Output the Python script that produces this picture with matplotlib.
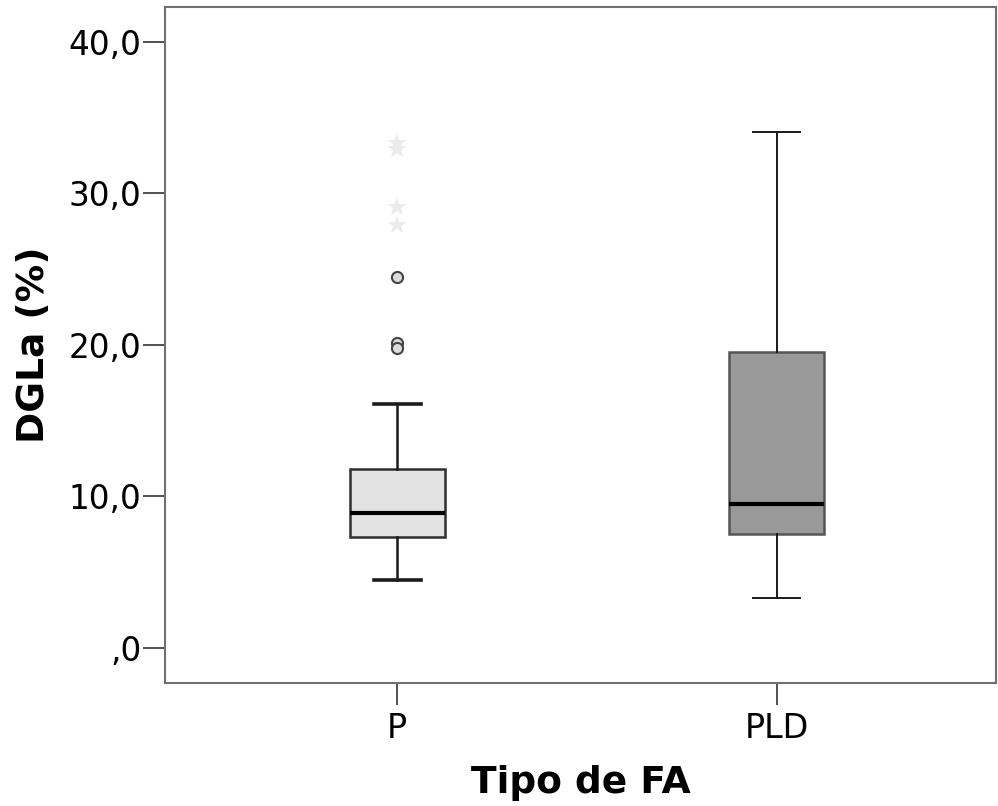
import matplotlib
matplotlib.use("Agg")
import matplotlib.pyplot as plt

# data
groups = ["P", "PLD"]
whisker_low = [4.5, 3.3]
q1 = [7.33, 7.52]
medians = [8.9, 9.5]
q3 = [11.8, 19.55]
whisker_high = [16.1, 34.05]
box_fill = ["#e3e3e3", "#999999"]
box_edge = ["#2e2e2e", "#555555"]

# outliers of group P
circle_vals = [24.5, 20.1, 19.8]
star_vals = [33.3, 32.9, 29.1, 27.9]

yticks = [0, 10, 20, 30, 40]
ytick_labels = [",0", "10,0", "20,0", "30,0", "40,0"]

fig = plt.figure(figsize=(9.98, 8.06), dpi=100)
ax = fig.add_axes([0.1653, 0.1526, 0.8327, 0.8387])

positions = [1, 2]
stats = []
for i, g in enumerate(groups):
	stats.append({"label": g, "whislo": whisker_low[i], "q1": q1[i], "med": medians[i],
				  "q3": q3[i], "whishi": whisker_high[i], "fliers": []})

bp = ax.bxp(stats, positions=positions, widths=0.25, patch_artist=True, showfliers=False,
			capwidths=0.124)
for i, box in enumerate(bp["boxes"]):
	box.set_facecolor(box_fill[i])
	box.set_edgecolor(box_edge[i])
	box.set_linewidth(1.8)
for m in bp["medians"]:
	m.set_color("black")
	m.set_linewidth(3)
for i, w in enumerate(bp["whiskers"]):
	w.set_color("#1a1a1a")
	w.set_linewidth(1.8 if i < 2 else 1.4)
for i, c in enumerate(bp["caps"]):
	c.set_color("#1a1a1a")
	c.set_linewidth(2.6 if i < 2 else 1.4)

ax.plot([positions[0]] * len(circle_vals), circle_vals, linestyle="none", marker="o",
		markersize=8, markerfacecolor="#dcdcdc", markeredgecolor="#444444", markeredgewidth=1.5)
ax.plot([positions[0]] * len(star_vals), star_vals, linestyle="none", marker="*",
		markersize=15, color="#ebebeb", markeredgewidth=0)

ax.set_xlim(0.388, 2.578)
ax.set_ylim(-2.31, 42.3)
ax.set_yticks(yticks)
ax.set_yticklabels(ytick_labels)
ax.set_xticks(positions)
ax.set_xticklabels(groups)

for s in ax.spines.values():
	s.set_color("#707070")
	s.set_linewidth(1.5)
ax.tick_params(axis="y", length=16, width=1.4, color="#505050", labelsize=23.5, pad=1)
ax.tick_params(axis="x", length=16, width=1.4, color="#505050", labelsize=24, pad=5)

ax.set_xlabel("Tipo de FA", fontsize=27, fontweight="bold", labelpad=14)
ax.set_ylabel("DGLa (%)", fontsize=27, fontweight="bold", labelpad=12)

fig.savefig("out.png", dpi=100)
